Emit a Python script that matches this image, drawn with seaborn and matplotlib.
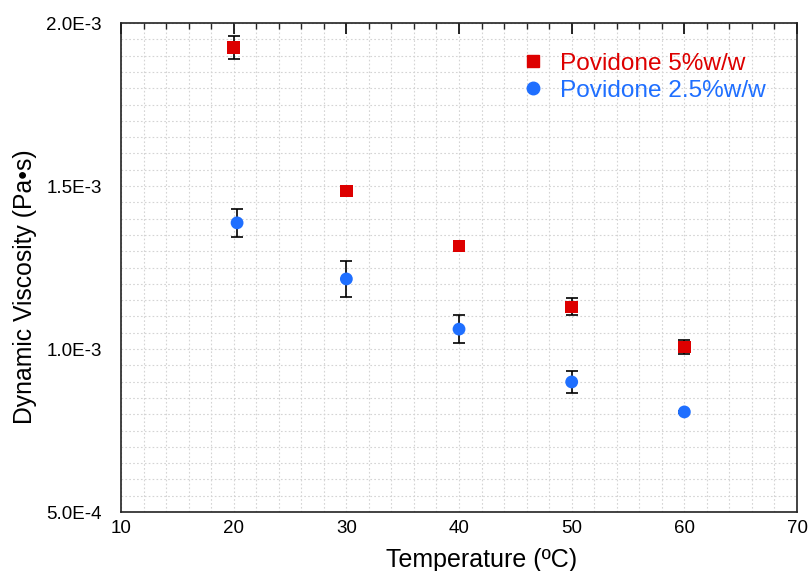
import matplotlib
matplotlib.use("Agg")
import matplotlib.pyplot as plt
import seaborn as sns
import pandas as pd
import numpy as np
from matplotlib.ticker import MultipleLocator, FixedLocator, FixedFormatter

# ---- data ----
series_names = ["Povidone 5%w/w", "Povidone 2.5%w/w"]
temp_5 = [20, 30, 40, 50, 60]
visc_5 = [1.926e-3, 1.485e-3, 1.316e-3, 1.129e-3, 1.006e-3]
err_5 = [0.035e-3, 0.005e-3, 0.005e-3, 0.026e-3, 0.021e-3]
temp_25 = [20.3, 30, 40, 50, 60]
visc_25 = [1.387e-3, 1.215e-3, 1.061e-3, 0.899e-3, 0.807e-3]
err_25 = [0.043e-3, 0.055e-3, 0.043e-3, 0.035e-3, 0.003e-3]
x_ticks = [10, 20, 30, 40, 50, 60, 70]
y_ticks = [5.0e-4, 1.0e-3, 1.5e-3, 2.0e-3]
y_tick_labels = ["5.0E-4", "1.0E-3", "1.5E-3", "2.0E-3"]

colors = {series_names[0]: "#DD0000", series_names[1]: "#1F6FFF"}
markers = {series_names[0]: "s", series_names[1]: "o"}

df = pd.DataFrame({
    "Temperature": temp_5 + temp_25,
    "Viscosity": visc_5 + visc_25,
    "err": err_5 + err_25,
    "Series": [series_names[0]] * len(temp_5) + [series_names[1]] * len(temp_25),
})

sns.set_style("white")
plt.rcParams["font.family"] = ["Liberation Sans", "DejaVu Sans"]
plt.rcParams["text.color"] = "black"
plt.rcParams["axes.labelcolor"] = "black"

fig = plt.figure(figsize=(8.08, 5.71), dpi=100)
ax = fig.add_axes([0.1498, 0.1033, 0.8366, 0.8564])

# error bars
for name in series_names:
    sub = df[df["Series"] == name]
    ax.errorbar(sub["Temperature"], sub["Viscosity"], yerr=sub["err"], fmt="none",
                ecolor="black", elinewidth=1.2, capsize=4, capthick=1.2, zorder=2)

sns.scatterplot(data=df, x="Temperature", y="Viscosity", hue="Series", style="Series",
                palette=colors, markers=markers, s=85, edgecolor="none",
                ax=ax, zorder=3, legend=False)

ax.set_xlim(10, 70)
ax.set_ylim(5.0e-4, 2.0e-3)
ax.xaxis.set_major_locator(FixedLocator(x_ticks))
ax.xaxis.set_minor_locator(MultipleLocator(2))
ax.yaxis.set_major_locator(FixedLocator(y_ticks))
ax.yaxis.set_major_formatter(FixedFormatter(y_tick_labels))
ax.yaxis.set_minor_locator(MultipleLocator(0.05e-3))

ax.grid(True, which="both", linestyle=(0, (1.5, 2)), color="#d4d4d4", linewidth=0.8)
ax.set_axisbelow(True)

ax.tick_params(axis="both", which="major", direction="in", length=8, width=1.2,
               labelsize=13.5, colors="black")
ax.tick_params(axis="y", which="major", pad=14)
ax.tick_params(axis="x", which="major", pad=6)
ax.tick_params(axis="both", which="minor", direction="in", length=4, width=1.0)
ax.tick_params(axis="x", top=True, which="both")
ax.tick_params(axis="y", right=False, which="both")

for sp in ax.spines.values():
    sp.set_visible(True)
    sp.set_color("#222222")
    sp.set_linewidth(1.2)

ax.set_xlabel("Temperature (ºC)", fontsize=18)
ax.set_ylabel("Dynamic Viscosity (Pa•s)", fontsize=17.8)
ax.xaxis.set_label_coords(0.534, -0.098)
ax.yaxis.set_label_coords(-0.142, 0.46)
ax.xaxis.label.set_verticalalignment("center")
ax.yaxis.label.set_verticalalignment("center")

# legend
handles = [plt.Line2D([], [], linestyle="none", marker=markers[n], color=colors[n],
                      markersize=9) for n in series_names]
leg = ax.legend(handles, series_names, loc="upper right", frameon=False, fontsize=17.6,
                handlelength=1.0, handletextpad=0.6, borderaxespad=0.0, labelspacing=0.2,
                bbox_to_anchor=(0.968, 0.959))
for t, n in zip(leg.get_texts(), series_names):
    t.set_color(colors[n])

fig.savefig("out.png", dpi=100)
